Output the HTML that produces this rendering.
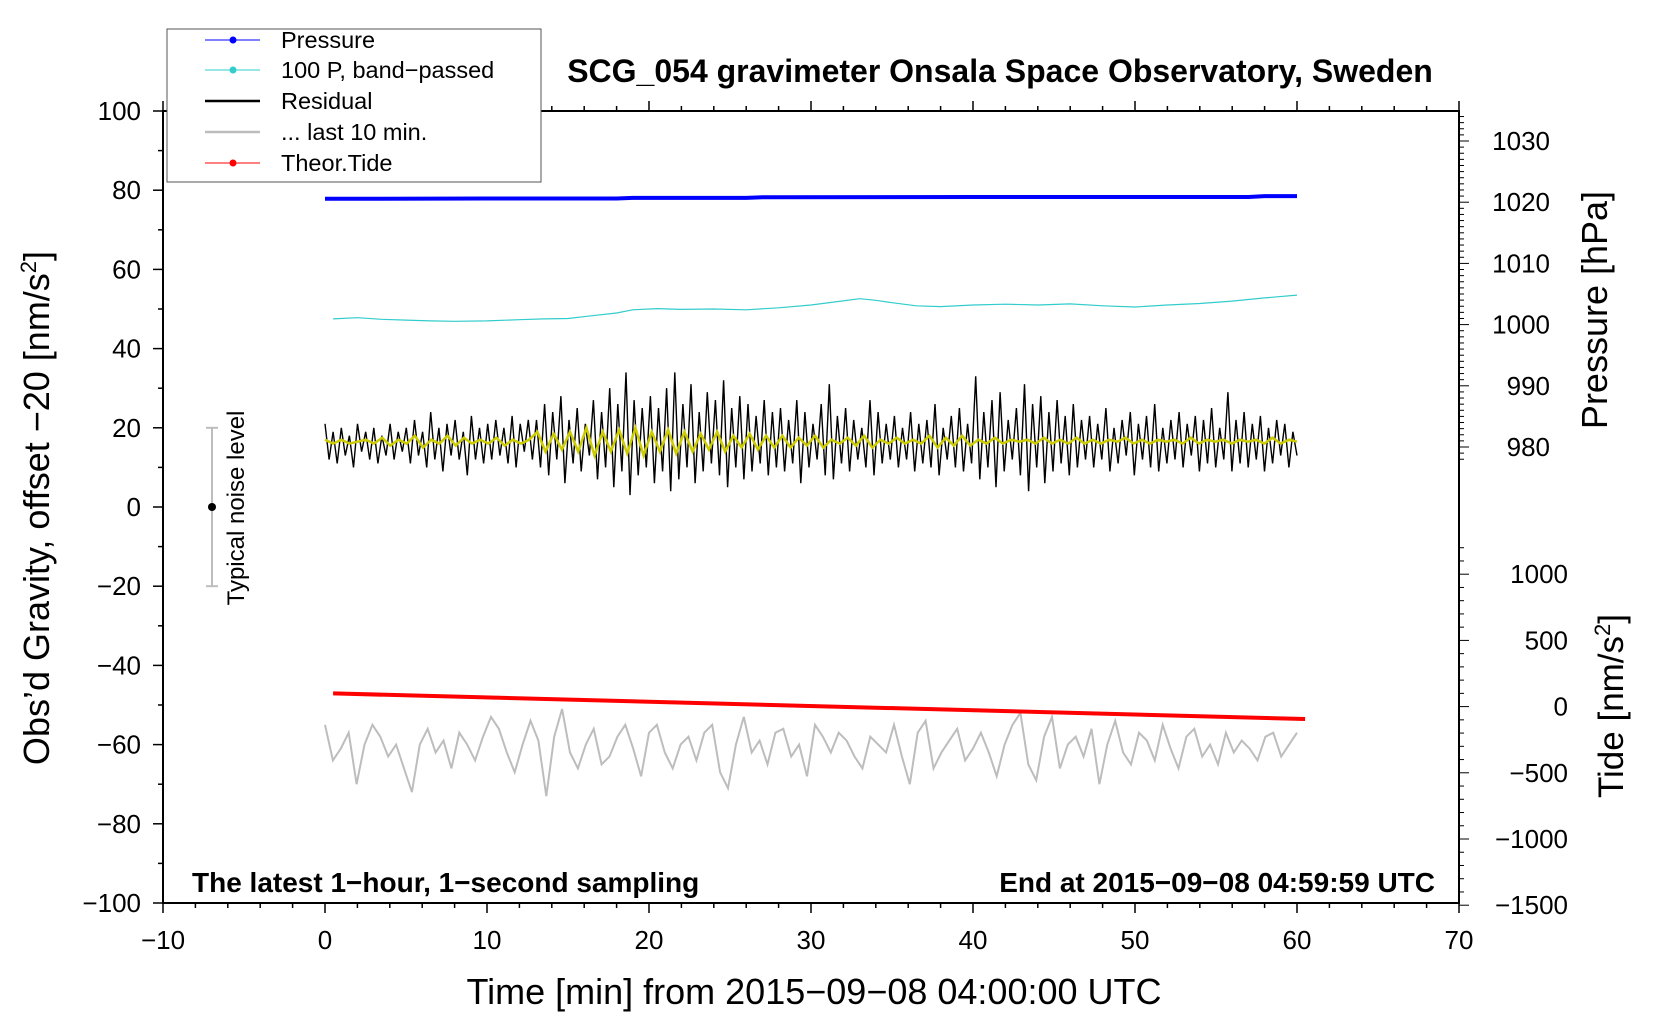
<!DOCTYPE html>
<html><head><meta charset="utf-8">
<style>
html,body{margin:0;padding:0;background:#fff;}
svg{display:block;font-family:"Liberation Sans",sans-serif;}
</style></head>
<body>
<svg id="chart" width="1660" height="1020" viewBox="0 0 1660 1020" xmlns="http://www.w3.org/2000/svg">
<rect x="0" y="0" width="1660" height="1020" fill="#fff"/>
<g id="axes"></g>
<g id="series"></g>
<g id="labels"></g>
</svg>
<script>
// ---- data ----
const pressureTimes = [0, 10, 18, 19, 26, 27, 40, 57, 58, 60];
const pressureValues = [1020.55, 1020.6, 1020.6, 1020.7, 1020.7, 1020.8, 1020.85, 1020.85, 1021.0, 1021.0];
const cyanTimes = [0.5, 2, 3.5, 5, 6.5, 8, 10, 12, 13.5, 15, 16.5, 18, 19, 20.5, 22, 24, 26, 28, 30, 31.5, 33, 34, 35, 36.5, 38, 40, 42, 44, 46, 48, 50, 52, 54, 56, 58, 60];
const cyanValues = [47.5, 47.8, 47.4, 47.2, 47.0, 46.9, 47.0, 47.3, 47.5, 47.6, 48.3, 49.0, 49.8, 50.1, 49.9, 50.0, 49.8, 50.3, 51.0, 51.8, 52.6, 52.2, 51.6, 50.8, 50.6, 51.0, 51.2, 51.0, 51.3, 50.8, 50.5, 51.0, 51.4, 52.0, 52.8, 53.5];
const residualValues = [21,12,19,11,20,13,18,10,21,14,19,12,20,11,18,13,21,12,19,14,
20,11,22,13,19,10,24,12,20,9,21,13,22,12,19,8,23,12,20,11,
21,12,22,13,20,11,23,10,21,14,22,12,
22,10,26,8,24,12,28,6,22,11,25,9,21,13,27,7,24,10,30,5,26,9,34,3,27,8,25,10,
28,6,25,9,30,4,34,7,26,10,31,6,24,9,29,11,27,8,32,5,25,10,28,7,26,9,23,11,27,8,24,10,
25,9,22,11,27,6,24,10,21,12,26,8,31,7,23,11,25,9,22,12,20,10,27,8,24,11,21,12,
23,10,20,12,24,9,21,11,22,10,26,8,20,12,23,10,25,9,21,11,
33,7,24,10,27,5,29,9,22,12,25,8,31,4,26,10,28,6,24,9,27,11,23,8,26,10,22,12,
23,10,21,12,25,9,20,11,22,13,24,8,21,12,23,10,26,9,20,11,22,12,24,10,21,13,23,9,22,11,25,10,20,12,29,9,22,11,24,10,21,12,23,9,20,11,22,13,21,10,19,13];
const smoothValues = [17,16,17,16,16.5,17,16,17.5,15.5,17,16,18,15,17,16,18,15.5,17.5,16,17,16,17.5,15.5,17,16,17,
19,14,18.5,14.5,19,14,20,13,19,14,19.5,13.5,20,13,19,14,19.5,13.5,19,14,18.5,14.5,19,14,18,15,18.5,14.5,18,15,
18,15,17.5,15.5,18,15,17,16,17.5,15.5,18,15,17,16,17.5,16,17,16,18,15,17.5,15.5,18,15.5,17,16,17.5,16,17,16.5,17,16,17.5,16,17,16,17.5,16,
17,16,17,16.5,17.5,16,17,16,17,16.5,17,16,17.5,16,17,16.5,17,16,17,16.5,17,16,17.5,16,17,16.5];
const last10Values = [-55,-64,-61,-57,-70,-60,-55,-58,-63,-60,-66,-72,-60,-56,-62,-59,-66,-57,-60,-64,-58,-53,-56,-62,-67,-60,-54,-59,-73,-58,-51,-62,-66,-60,-56,-65,-63,-58,-55,-61,-68,-57,-55,-62,-66,-60,-58,-64,-57,-55,-67,-71,-60,-53,-62,-59,-65,-57,-56,-63,-60,-68,-55,-58,-62,-57,-59,-63,-66,-58,-60,-62,-55,-63,-70,-57,-54,-66,-62,-59,-56,-64,-61,-57,-62,-68,-60,-55,-52,-65,-69,-58,-53,-66,-60,-58,-63,-56,-70,-60,-54,-62,-65,-57,-59,-64,-55,-61,-66,-58,-56,-63,-60,-65,-57,-62,-59,-61,-64,-58,-57,-63,-60,-57];
const tideTimes = [0.5, 60.5];
const tideValues = [100, -94];
const xTicks = [-10, 0, 10, 20, 30, 40, 50, 60, 70];
const yTicks = [-100, -80, -60, -40, -20, 0, 20, 40, 60, 80, 100];
const pTicks = [980, 990, 1000, 1010, 1020, 1030];
const tTicks = [-1500, -1000, -500, 0, 500, 1000];

// ---- scales ----
const L = 163, R = 1459, T = 111, B = 903;
const sx = v => L + (v + 10) / 80 * (R - L);
const sy = v => B - (v + 100) / 200 * (B - T);
const sp = v => 141 + (1030 - v) * 6.12;
const st = v => 706.6 - v * 0.1324;

const NS = "http://www.w3.org/2000/svg";
function mk(parent, tag, attrs, text) {
  const e = document.createElementNS(NS, tag);
  for (const k in attrs) e.setAttribute(k, attrs[k]);
  if (text !== undefined) e.textContent = text;
  document.getElementById(parent).appendChild(e);
  return e;
}
function linePath(xs, ys) {
  return xs.map((x, i) => (i ? "L" : "M") + x.toFixed(1) + "," + ys[i].toFixed(1)).join("");
}

let e = mk("axes", "rect", {x: L, y: T, width: R - L, height: B - T, fill: "none", stroke: "#000", "stroke-width": 2});



for (let v = -10; v <= 70; v += 2) {
  const major = v % 10 === 0;
  mk("axes", "line", {x1: sx(v), x2: sx(v), y1: B, y2: B + (major ? 10 : 5), stroke: "#000", "stroke-width": 1.5});
  mk("axes", "line", {x1: sx(v), x2: sx(v), y1: T, y2: T - (major ? 10 : 5), stroke: "#000", "stroke-width": 1.5});
}
xTicks.forEach(v => {
  e = mk("labels", "text", {x: sx(v), y: 949, "text-anchor": "middle", "font-size": 26}, String(v).replace("-", "\u2212"));
  
  
});
for (let v = -100; v <= 100; v += 10) {
  const major = v % 20 === 0;
  mk("axes", "line", {x1: L, x2: L - (major ? 10 : 5), y1: sy(v), y2: sy(v), stroke: "#000", "stroke-width": 1.5});
}
yTicks.forEach(v => {
  e = mk("labels", "text", {x: 141, y: sy(v) + 9, "text-anchor": "end", "font-size": 26}, String(v).replace("-", "\u2212"));
  
  
});
for (let v = 978; v <= 1034; v += 1) {
  const major = v % 10 === 0;
  mk("axes", "line", {x1: R, x2: R + (major ? 10 : 5), y1: sp(v), y2: sp(v), stroke: "#000", "stroke-width": 1});
}
pTicks.forEach(v => {
  e = mk("labels", "text", {x: 1550, y: sp(v) + 9, "text-anchor": "end", "font-size": 26}, String(v));
  
  
});
for (let v = -1500; v <= 1200; v += 100) {
  const major = v % 500 === 0;
  mk("axes", "line", {x1: R, x2: R + (major ? 10 : 5), y1: st(v), y2: st(v), stroke: "#000", "stroke-width": 1});
}
tTicks.forEach(v => {
  e = mk("labels", "text", {x: 1568, y: st(v) + 9, "text-anchor": "end", "font-size": 26}, String(v).replace("-", "\u2212"));
  
  
});

e = mk("series", "path", {d: linePath(last10Values.map((v, i) => sx(i * 60 / (last10Values.length - 1))), last10Values.map(sy)), fill: "none", stroke: "#bdbdbd", "stroke-width": 2});


e = mk("series", "path", {d: linePath(residualValues.map((v, i) => sx(i * 60 / (residualValues.length - 1))), residualValues.map(sy)), fill: "none", stroke: "#000", "stroke-width": 1.4});


e = mk("series", "path", {d: linePath(smoothValues.map((v, i) => sx(i * 60 / (smoothValues.length - 1))), smoothValues.map(sy)), fill: "none", stroke: "#cccc00", "stroke-width": 2.5});


e = mk("series", "path", {d: linePath(cyanTimes.map(sx), cyanValues.map(sy)), fill: "none", stroke: "#33cccc", "stroke-width": 1.2});


e = mk("series", "path", {d: linePath(pressureTimes.map(sx), pressureValues.map(sp)), fill: "none", stroke: "#0000ff", "stroke-width": 4});


e = mk("series", "path", {d: linePath(tideTimes.map(sx), tideValues.map(st)), fill: "none", stroke: "#ff0000", "stroke-width": 4});



mk("series", "line", {x1: 212, x2: 212, y1: sy(20), y2: sy(-20), stroke: "#bdbdbd", "stroke-width": 2});
mk("series", "line", {x1: 206, x2: 218, y1: sy(20), y2: sy(20), stroke: "#bdbdbd", "stroke-width": 2});
mk("series", "line", {x1: 206, x2: 218, y1: sy(-20), y2: sy(-20), stroke: "#bdbdbd", "stroke-width": 2});
e = mk("series", "circle", {cx: 212, cy: sy(0), r: 4, fill: "#000"});


</script>
<div style="position:absolute;left:0;top:0;width:1660px;height:1020px;pointer-events:none">
<svg width="1660" height="1020" style="font-family:'Liberation Sans',sans-serif">
<text x="244" y="508" transform="rotate(-90 244 508)" text-anchor="middle" font-size="24">Typical noise level</text>
<g>
<rect x="167" y="29" width="374" height="153" fill="#fff" stroke="#555" stroke-width="1"/>
<line x1="205" x2="260" y1="40" y2="40" stroke="#0000ff" stroke-width="1"/><circle cx="233" cy="40" r="3.5" fill="#0000ff"/>
<text x="281" y="48" font-size="23.5">Pressure</text>
<line x1="205" x2="260" y1="70" y2="70" stroke="#33cccc" stroke-width="1"/><circle cx="233" cy="70" r="3.5" fill="#33cccc"/>
<text x="281" y="78" font-size="23.5">100 P, band−passed</text>
<line x1="205" x2="260" y1="101" y2="101" stroke="#000" stroke-width="2.5"/>
<text x="281" y="109" font-size="23.5">Residual</text>
<line x1="205" x2="260" y1="132" y2="132" stroke="#bdbdbd" stroke-width="2.5"/>
<text x="281" y="140" font-size="23.5">... last 10 min.</text>
<line x1="205" x2="260" y1="163" y2="163" stroke="#ff0000" stroke-width="1"/><circle cx="233" cy="163" r="3.5" fill="#ff0000"/>
<text x="281" y="171" font-size="23.5">Theor.Tide</text>
</g>
<text x="1000" y="82" text-anchor="middle" font-size="32" font-weight="bold">SCG_054 gravimeter Onsala Space Observatory, Sweden</text>
<text x="192" y="892" font-size="28" font-weight="bold">The latest 1−hour, 1−second sampling</text>
<text x="1435" y="892" text-anchor="end" font-size="28" font-weight="bold">End at 2015−09−08 04:59:59 UTC</text>
<text x="814" y="1004" text-anchor="middle" font-size="36">Time [min] from 2015−09−08 04:00:00 UTC</text>
<text x="49" y="508" transform="rotate(-90 49 508)" text-anchor="middle" font-size="36">Obs’d Gravity, offset −20 [nm/s<tspan font-size="22" dy="-13">2</tspan><tspan dy="13">]</tspan></text>
<text x="1607" y="310" transform="rotate(-90 1607 310)" text-anchor="middle" font-size="36">Pressure [hPa]</text>
<text x="1623" y="706" transform="rotate(-90 1623 706)" text-anchor="middle" font-size="35">Tide [nm/s<tspan font-size="22" dy="-13">2</tspan><tspan dy="13">]</tspan></text>
</svg>
</div>
</body></html>
